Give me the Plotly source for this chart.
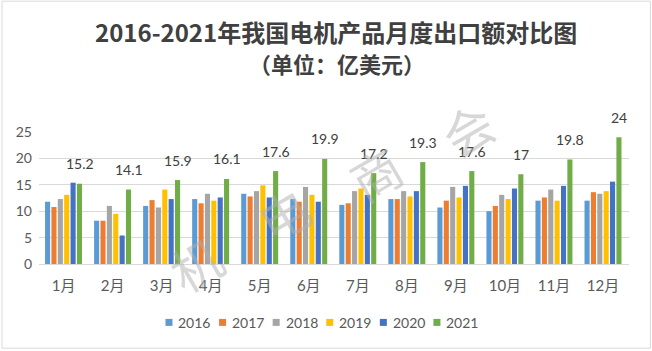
import plotly.graph_objects as go

months = ["1月", "2月", "3月", "4月", "5月", "6月", "7月", "8月", "9月", "10月", "11月", "12月"]
years = ["2016", "2017", "2018", "2019", "2020", "2021"]
v2016 = [11.8, 8.2, 11.0, 12.3, 13.3, 12.3, 11.2, 12.3, 10.7, 10.0, 12.0, 12.0]
v2017 = [10.8, 8.2, 12.1, 11.5, 12.8, 11.8, 11.5, 12.3, 12.0, 11.0, 12.6, 13.6]
v2018 = [12.3, 11.0, 10.7, 13.3, 13.8, 14.6, 13.8, 13.8, 14.6, 13.1, 14.1, 13.3]
v2019 = [13.1, 9.5, 14.1, 12.0, 14.9, 13.1, 14.3, 12.8, 12.6, 12.3, 12.0, 13.8]
v2020 = [15.4, 5.4, 12.3, 12.6, 12.6, 11.8, 13.1, 13.8, 14.8, 14.3, 14.8, 15.6]
v2021 = [15.2, 14.1, 15.9, 16.1, 17.6, 19.9, 17.2, 19.3, 17.6, 17, 19.8, 24]
series = [v2016, v2017, v2018, v2019, v2020, v2021]
colors = ["#5B9BD5", "#ED7D31", "#A5A5A5", "#FFC000", "#4472C4", "#70AD47"]
watermark = ["机", "电", "商", "会"]
title_line1 = "2016-2021年我国电机产品月度出口额对比图"
title_line2 = "（单位：亿美元）"

FONT = "Lato, Noto Sans CJK SC"
CJK = "Noto Sans CJK SC"
W, H = 652, 351
L, R, T, B = 38.5, 23.4, 132.3, 86.7
PW, PH = W - L - R, H - T - B


def px2x(px):
    return (px - L) / PW


def py2y(py):
    return (H - B - py) / PH


fig = go.Figure()
for y, vals, c in zip(years, series, colors):
    fig.add_trace(go.Bar(x=months, y=vals, name=y, marker=dict(color=c, line=dict(width=0)),
                         showlegend=False, cliponaxis=False))

annotations = []
for m, v in zip(months, v2021):
    annotations.append(dict(x=m, y=v, xref="x", yref="y", text=("%g" % v), showarrow=False,
                            xshift=16, yshift=20, font=dict(family=FONT, size=14, color="#404040")))

annotations.append(dict(x=px2x(336), y=py2y(32), xref="paper", yref="paper",
                        text="<b>%s</b>" % title_line1, showarrow=False,
                        xanchor="center", yanchor="middle", font=dict(family=CJK, size=24, color="#404040")))
annotations.append(dict(x=px2x(337), y=py2y(63), xref="paper", yref="paper",
                        text="<b>%s</b>" % title_line2, showarrow=False,
                        xanchor="center", yanchor="middle", font=dict(family=CJK, size=22, color="#404040")))

wm_pos = [(195, 263), (283, 213), (375, 172), (467, 128)]
for ch, (px, py) in zip(watermark, wm_pos):
    annotations.append(dict(x=px2x(px), y=py2y(py), xref="paper", yref="paper", text=ch, showarrow=False,
                            textangle=-30, xanchor="center", yanchor="middle",
                            font=dict(family=CJK, size=50, color="rgba(175,175,175,0.5)")))

shapes = [dict(type="rect", xref="paper", yref="paper",
               x0=px2x(1.5), x1=px2x(650), y0=py2y(348.5), y1=py2y(1.5),
               line=dict(color="#d9d9d9", width=1), layer="below")]

# legend (manual, compact like the original)
leg_y = 322.7
for i, (yr, c) in enumerate(zip(years, colors)):
    sx = 165 + i * 53.6
    shapes.append(dict(type="rect", xref="paper", yref="paper",
                       x0=px2x(sx), x1=px2x(sx + 7), y0=py2y(leg_y + 3.5), y1=py2y(leg_y - 3.5),
                       fillcolor=c, line=dict(width=0)))
    annotations.append(dict(x=px2x(sx + 11), y=py2y(leg_y), xref="paper", yref="paper", text=yr,
                            showarrow=False, xanchor="left", yanchor="middle",
                            font=dict(family=FONT, size=14, color="#595959")))

fig.update_layout(
    width=W, height=H,
    margin=dict(l=L, r=R, t=T, b=B),
    paper_bgcolor="white", plot_bgcolor="white",
    barmode="group", bargap=0.22, bargroupgap=0.2,
    showlegend=False,
    annotations=annotations,
    shapes=shapes,
    xaxis=dict(showgrid=False, showline=True, linecolor="#d9d9d9", ticks="", ticklabelstandoff=8,
               tickfont=dict(family=FONT, size=15, color="#595959")),
    yaxis=dict(range=[0, 25], dtick=5, showgrid=True, gridcolor="#d9d9d9", zeroline=False,
               showline=False, ticks="", ticklabelstandoff=6,
               tickfont=dict(family=FONT, size=14, color="#595959")),
)

fig.write_html("out.html")
